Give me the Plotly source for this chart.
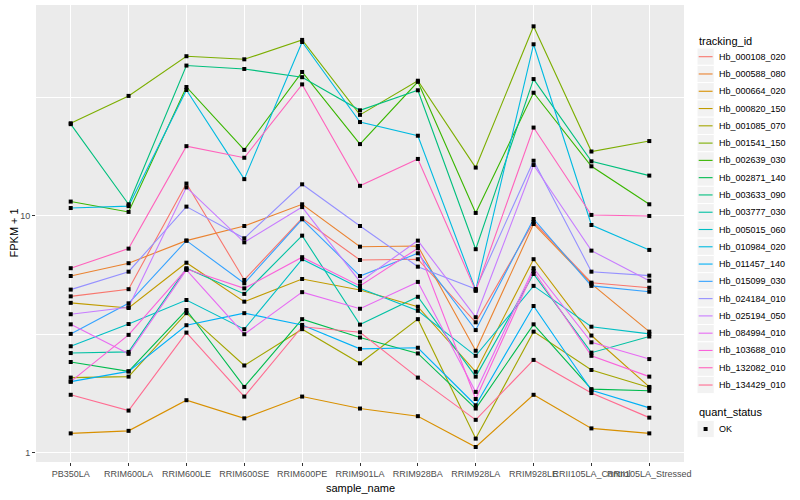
import plotly.graph_objects as go

# ---------------- data (FPKM + 1 values) ----------------
samples = ["PB350LA", "RRIM600LA", "RRIM600LE", "RRIM600SE", "RRIM600PE",
           "RRIM901LA", "RRIM928BA", "RRIM928LA", "RRIM928LE",
           "RRII105LA_Control", "RRII105LA_Stressed"]

tracking_ids = ["Hb_000108_020", "Hb_000588_080", "Hb_000664_020", "Hb_000820_150",
                "Hb_001085_070", "Hb_001541_150", "Hb_002639_030", "Hb_002871_140",
                "Hb_003633_090", "Hb_003777_030", "Hb_005015_060", "Hb_010984_020",
                "Hb_011457_140", "Hb_015099_030", "Hb_024184_010", "Hb_025194_050",
                "Hb_084994_010", "Hb_103688_010", "Hb_132082_010", "Hb_134429_010"]

hb_000108_020 = [4.58, 4.91, 13.7, 5.37, 9.78, 6.52, 6.57, 3.56, 9.43, 5.23, 4.98]
hb_000588_080 = [5.58, 6.32, 7.87, 9.07, 11.2, 7.42, 7.47, 2.70, 9.25, 5.17, 3.25]
hb_000664_020 = [1.21, 1.24, 1.67, 1.40, 1.73, 1.54, 1.43, 1.06, 1.76, 1.27, 1.21]
hb_000820_150 = [4.30, 4.09, 6.35, 4.35, 5.42, 4.87, 4.14, 2.20, 6.57, 3.13, 1.90]
hb_001085_070 = [2.08, 2.10, 3.89, 2.34, 3.33, 2.39, 3.67, 1.15, 3.25, 2.24, 1.89]
hb_001541_150 = [24.6, 32.1, 47.2, 45.8, 55.3, 26.7, 37.2, 16.0, 63.1, 18.7, 20.7]
hb_002639_030 = [11.5, 10.4, 35.0, 19.0, 40.5, 20.1, 36.8, 10.3, 33.1, 16.2, 11.2]
hb_002871_140 = [2.42, 2.21, 4.01, 1.90, 3.67, 3.07, 2.63, 1.54, 3.49, 1.86, 1.83]
hb_003633_090 = [24.4, 11.2, 43.1, 41.7, 38.5, 27.9, 33.9, 7.24, 37.8, 17.0, 14.8]
hb_003777_030 = [2.64, 2.67, 6.02, 4.69, 8.26, 3.48, 4.56, 2.10, 5.69, 2.65, 3.10]
hb_005015_060 = [2.82, 3.50, 4.42, 3.33, 6.57, 4.95, 3.98, 2.57, 5.07, 3.41, 3.18]
hb_010984_020 = [10.8, 11.0, 34.0, 14.3, 54.2, 24.9, 21.8, 4.87, 53.0, 9.16, 7.19]
hb_011457_140 = [2.00, 2.21, 3.46, 3.89, 3.47, 2.75, 2.78, 1.59, 4.17, 1.84, 1.55]
hb_015099_030 = [3.18, 4.28, 7.87, 5.20, 9.68, 5.58, 6.96, 3.30, 9.71, 5.07, 4.79]
hb_024184_010 = [4.89, 5.82, 10.95, 8.05, 13.6, 9.07, 6.11, 4.92, 17.1, 5.82, 5.60]
hb_025194_050 = [3.85, 4.12, 13.2, 7.74, 10.9, 5.28, 7.87, 3.74, 16.4, 7.14, 5.33]
hb_084994_010 = [3.49, 2.62, 5.92, 3.17, 4.77, 4.06, 5.27, 1.81, 6.02, 2.93, 2.49]
hb_103688_010 = [2.00, 3.15, 5.97, 4.95, 6.70, 5.07, 7.31, 1.69, 5.86, 2.57, 2.10]
hb_132082_010 = [6.02, 7.28, 19.7, 17.6, 35.9, 13.4, 17.4, 4.83, 23.6, 10.1, 10.0]
hb_134429_010 = [1.76, 1.51, 3.22, 1.73, 3.41, 3.23, 2.08, 1.38, 2.47, 1.79, 1.41]

series_values = [hb_000108_020, hb_000588_080, hb_000664_020, hb_000820_150,
                 hb_001085_070, hb_001541_150, hb_002639_030, hb_002871_140,
                 hb_003633_090, hb_003777_030, hb_005015_060, hb_010984_020,
                 hb_011457_140, hb_015099_030, hb_024184_010, hb_025194_050,
                 hb_084994_010, hb_103688_010, hb_132082_010, hb_134429_010]

quant_status = "OK"
y_tick_vals = [1, 10]
y_tick_text = ["1", "10"]

# ---------------- style ----------------
line_colors = ["#F8766D", "#EA8331", "#D89000", "#C09B00", "#A3A500", "#7CAE00",
               "#39B600", "#00BB4E", "#00BF7D", "#00C1A3", "#00BFC4", "#00BAE0",
               "#00B0F6", "#35A2FF", "#9590FF", "#C77CFF", "#E76BF3", "#FA62DB",
               "#FF62BC", "#FF6C91"]

W, H = 800, 500
PL, PR, PT, PB = 36, 684, 5, 462  # panel edges in pixels
FONT = "Liberation Sans, Arial, Helvetica, sans-serif"


def px_x(X):
    return (X - PL) / (PR - PL)


def px_y(Y):
    return (PB - Y) / (PB - PT)


fig = go.Figure()
for name, vals, col in zip(tracking_ids, series_values, line_colors):
    fig.add_trace(go.Scatter(x=samples, y=vals, mode="lines", name=name,
                             line=dict(color=col, width=1.1),
                             showlegend=False, hoverinfo="skip"))
for name, vals in zip(tracking_ids, series_values):
    fig.add_trace(go.Scatter(x=samples, y=vals, mode="markers", name=name,
                             marker=dict(symbol="square", size=4, color="black",
                                         line=dict(width=0)),
                             showlegend=False))

shapes = []
annotations = []

# legend: tracking_id
annotations.append(dict(text="tracking_id", x=px_x(697), y=px_y(40.5), xref="paper", yref="paper",
                        xanchor="left", yanchor="middle", showarrow=False,
                        font=dict(family=FONT, size=11, color="black")))
key_w = 17.28
for i, (name, col) in enumerate(zip(tracking_ids, line_colors)):
    cy = 56.7 + key_w * i
    shapes.append(dict(type="rect", xref="paper", yref="paper",
                       x0=px_x(697), x1=px_x(697 + key_w),
                       y0=px_y(cy - key_w / 2), y1=px_y(cy + key_w / 2),
                       fillcolor="#F2F2F2", line=dict(color="white", width=1), layer="above"))
    shapes.append(dict(type="line", xref="paper", yref="paper",
                       x0=px_x(698.7), x1=px_x(697 + key_w - 1.7),
                       y0=px_y(cy), y1=px_y(cy),
                       line=dict(color=col, width=1.1), layer="above"))
    annotations.append(dict(text=name, x=px_x(717), y=px_y(cy), xref="paper", yref="paper",
                            xanchor="left", yanchor="middle", showarrow=False,
                            font=dict(family=FONT, size=9, color="black")))

# legend: quant_status
annotations.append(dict(text="quant_status", x=px_x(697), y=px_y(411.7), xref="paper", yref="paper",
                        xanchor="left", yanchor="middle", showarrow=False,
                        font=dict(family=FONT, size=11, color="black")))
cy = 429
shapes.append(dict(type="rect", xref="paper", yref="paper",
                   x0=px_x(697), x1=px_x(697 + key_w),
                   y0=px_y(cy - key_w / 2), y1=px_y(cy + key_w / 2),
                   fillcolor="#F2F2F2", line=dict(color="white", width=1), layer="above"))
shapes.append(dict(type="rect", xref="paper", yref="paper",
                   x0=px_x(705.6 - 2), x1=px_x(705.6 + 2),
                   y0=px_y(cy - 2), y1=px_y(cy + 2),
                   fillcolor="black", line=dict(width=0), layer="above"))
annotations.append(dict(text=quant_status, x=px_x(717), y=px_y(cy), xref="paper", yref="paper",
                        xanchor="left", yanchor="middle", showarrow=False,
                        font=dict(family=FONT, size=9, color="black")))

# axis titles
annotations.append(dict(text="sample_name", x=0.5, y=px_y(487.5), xref="paper", yref="paper",
                        xanchor="center", yanchor="middle", showarrow=False,
                        font=dict(family=FONT, size=11, color="black")))
annotations.append(dict(text="FPKM + 1", x=px_x(13), y=0.5, xref="paper", yref="paper",
                        xanchor="center", yanchor="middle", showarrow=False, textangle=-90,
                        font=dict(family=FONT, size=11, color="black")))

fig.update_layout(
    width=W, height=H,
    margin=dict(l=PL, r=W - PR, t=PT, b=H - PB, pad=0),
    plot_bgcolor="#EBEBEB", paper_bgcolor="white",
    font=dict(family=FONT, size=9, color="#4D4D4D"),
    shapes=shapes, annotations=annotations,
    showlegend=False,
)
fig.update_xaxes(type="category", categoryorder="array", categoryarray=samples,
                 range=[-0.6, 10.6], showgrid=True, gridcolor="white", gridwidth=1.1,
                 ticks="outside", ticklen=3, tickwidth=1, tickcolor="#333333",
                 tickangle=0, tickfont=dict(family=FONT, size=9, color="#4D4D4D"),
                 zeroline=False, showline=False, automargin=False)
fig.update_yaxes(type="log", range=[-0.038, 1.890], tickmode="array",
                 tickvals=y_tick_vals, ticktext=y_tick_text,
                 showgrid=True, gridcolor="white", gridwidth=1.1,
                 minor=dict(tickmode="array", tickvals=[10 ** 0.5, 10 ** 1.5], showgrid=True,
                            gridcolor="white", gridwidth=0.55, ticks=""),
                 ticks="outside", ticklen=3, tickwidth=1, tickcolor="#333333",
                 tickfont=dict(family=FONT, size=9, color="#4D4D4D"),
                 zeroline=False, showline=False, automargin=False)

fig.write_html("out.html", config={"displayModeBar": False},
               post_script="document.body.style.margin='0';document.body.style.overflow='hidden';")
